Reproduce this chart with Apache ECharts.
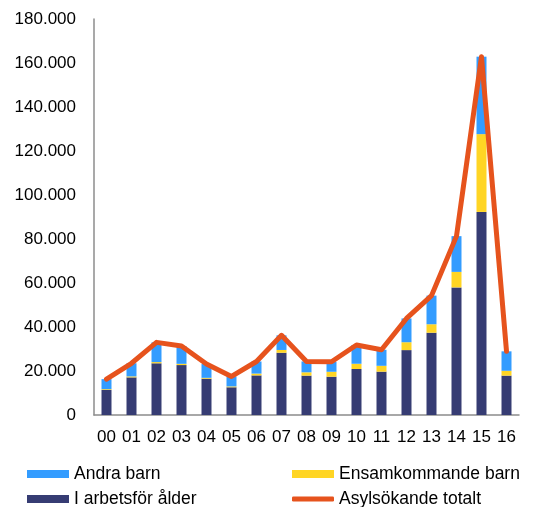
<!doctype html>
<html lang="sv">
<head>
    <meta charset="utf-8">
    <title>Asylsökande</title>
    <script src="https://cdn.jsdelivr.net/npm/echarts@6/dist/echarts.min.js"></script>
    <style>
        *{margin:0;padding:0}
        html,body{width:100%;height:100%;background:#fff}
        #main{width:540px;height:507px}
    </style>
</head>
<body>
<div id="main"></div>
<script type="text/javascript">
    var years = ['00','01','02','03','04','05','06','07','08','09','10','11','12','13','14','15','16'];
    // I arbetsför ålder
    var arbetsfor = [11400, 17100, 23500, 22700, 16500, 12600, 18000, 28300, 17900, 17400, 20900, 19700, 29500, 37400, 58000, 92300, 17900];
    // Ensamkommande barn
    var ensamkommande = [350, 450, 550, 560, 390, 400, 820, 1260, 1510, 2250, 2390, 2660, 3580, 3850, 7050, 35370, 2200];
    // Andra barn
    var andraBarn = [4550, 5970, 8970, 8100, 6270, 4530, 5500, 6650, 4940, 4540, 8530, 7290, 10810, 13010, 16250, 35210, 8840];
    // Asylsökande totalt
    var totalt = [16303, 23515, 33016, 31355, 23161, 17530, 24322, 36207, 24353, 24194, 31819, 29648, 43887, 54259, 81301, 162877, 28939];

    var myChart = echarts.init(document.getElementById('main'), null, {renderer: 'canvas'});
    var font = 'Liberation Sans, Arial, sans-serif';

    function fmt(v) {
        return String(v).replace(/\B(?=(\d{3})+(?!\d))/g, '.');
    }

    function legendItem(name, left, top, icon, h) {
        return {
            data: [name],
            left: left,
            top: top,
            icon: icon,
            itemWidth: 42,
            itemHeight: h,
            itemGap: 0,
            padding: 0,
            selectedMode: false,
            textStyle: {fontFamily: font, fontSize: 17.5, color: '#000', padding: [0, 0, 0, 0]}
        };
    }

    var option = {
        animation: false,
        grid: {left: 94, right: 21, top: 19, bottom: 92},
        legend: [
            legendItem('Andra barn', 27, 465, 'rect', 8),
            legendItem('Ensamkommande barn', 292, 465, 'rect', 8),
            legendItem('I arbetsför ålder', 27, 490, 'rect', 8),
            legendItem('Asylsökande totalt', 292, 490, 'roundRect', 5)
        ],
        xAxis: {
            type: 'category',
            data: years,
            axisLine: {lineStyle: {color: '#8c8c8c', width: 1.5}},
            axisTick: {show: false},
            axisLabel: {color: '#000', fontFamily: font, fontSize: 17, margin: 14}
        },
        yAxis: {
            type: 'value',
            min: 0,
            max: 180000,
            interval: 20000,
            axisLine: {show: true, lineStyle: {color: '#8c8c8c', width: 1.5}},
            axisTick: {show: false},
            splitLine: {show: false},
            axisLabel: {
                color: '#000', fontFamily: font, fontSize: 17, margin: 18,
                formatter: function (v) { return fmt(v); }
            }
        },
        series: [
            {
                name: 'I arbetsför ålder',
                type: 'bar',
                stack: 'a',
                barWidth: 10,
                itemStyle: {color: '#363c73'},
                data: arbetsfor
            },
            {
                name: 'Ensamkommande barn',
                type: 'bar',
                stack: 'a',
                barWidth: 10,
                itemStyle: {color: '#ffd524'},
                data: ensamkommande
            },
            {
                name: 'Andra barn',
                type: 'bar',
                stack: 'a',
                barWidth: 10,
                itemStyle: {color: '#339cff'},
                data: andraBarn
            },
            {
                name: 'Asylsökande totalt',
                type: 'line',
                symbol: 'none',
                z: 5,
                itemStyle: {color: '#e6531d'},
                lineStyle: {color: '#e6531d', width: 5, cap: 'round', join: 'round'},
                data: totalt
            }
        ]
    };
    myChart.setOption(option);
</script>
</body>
</html>
